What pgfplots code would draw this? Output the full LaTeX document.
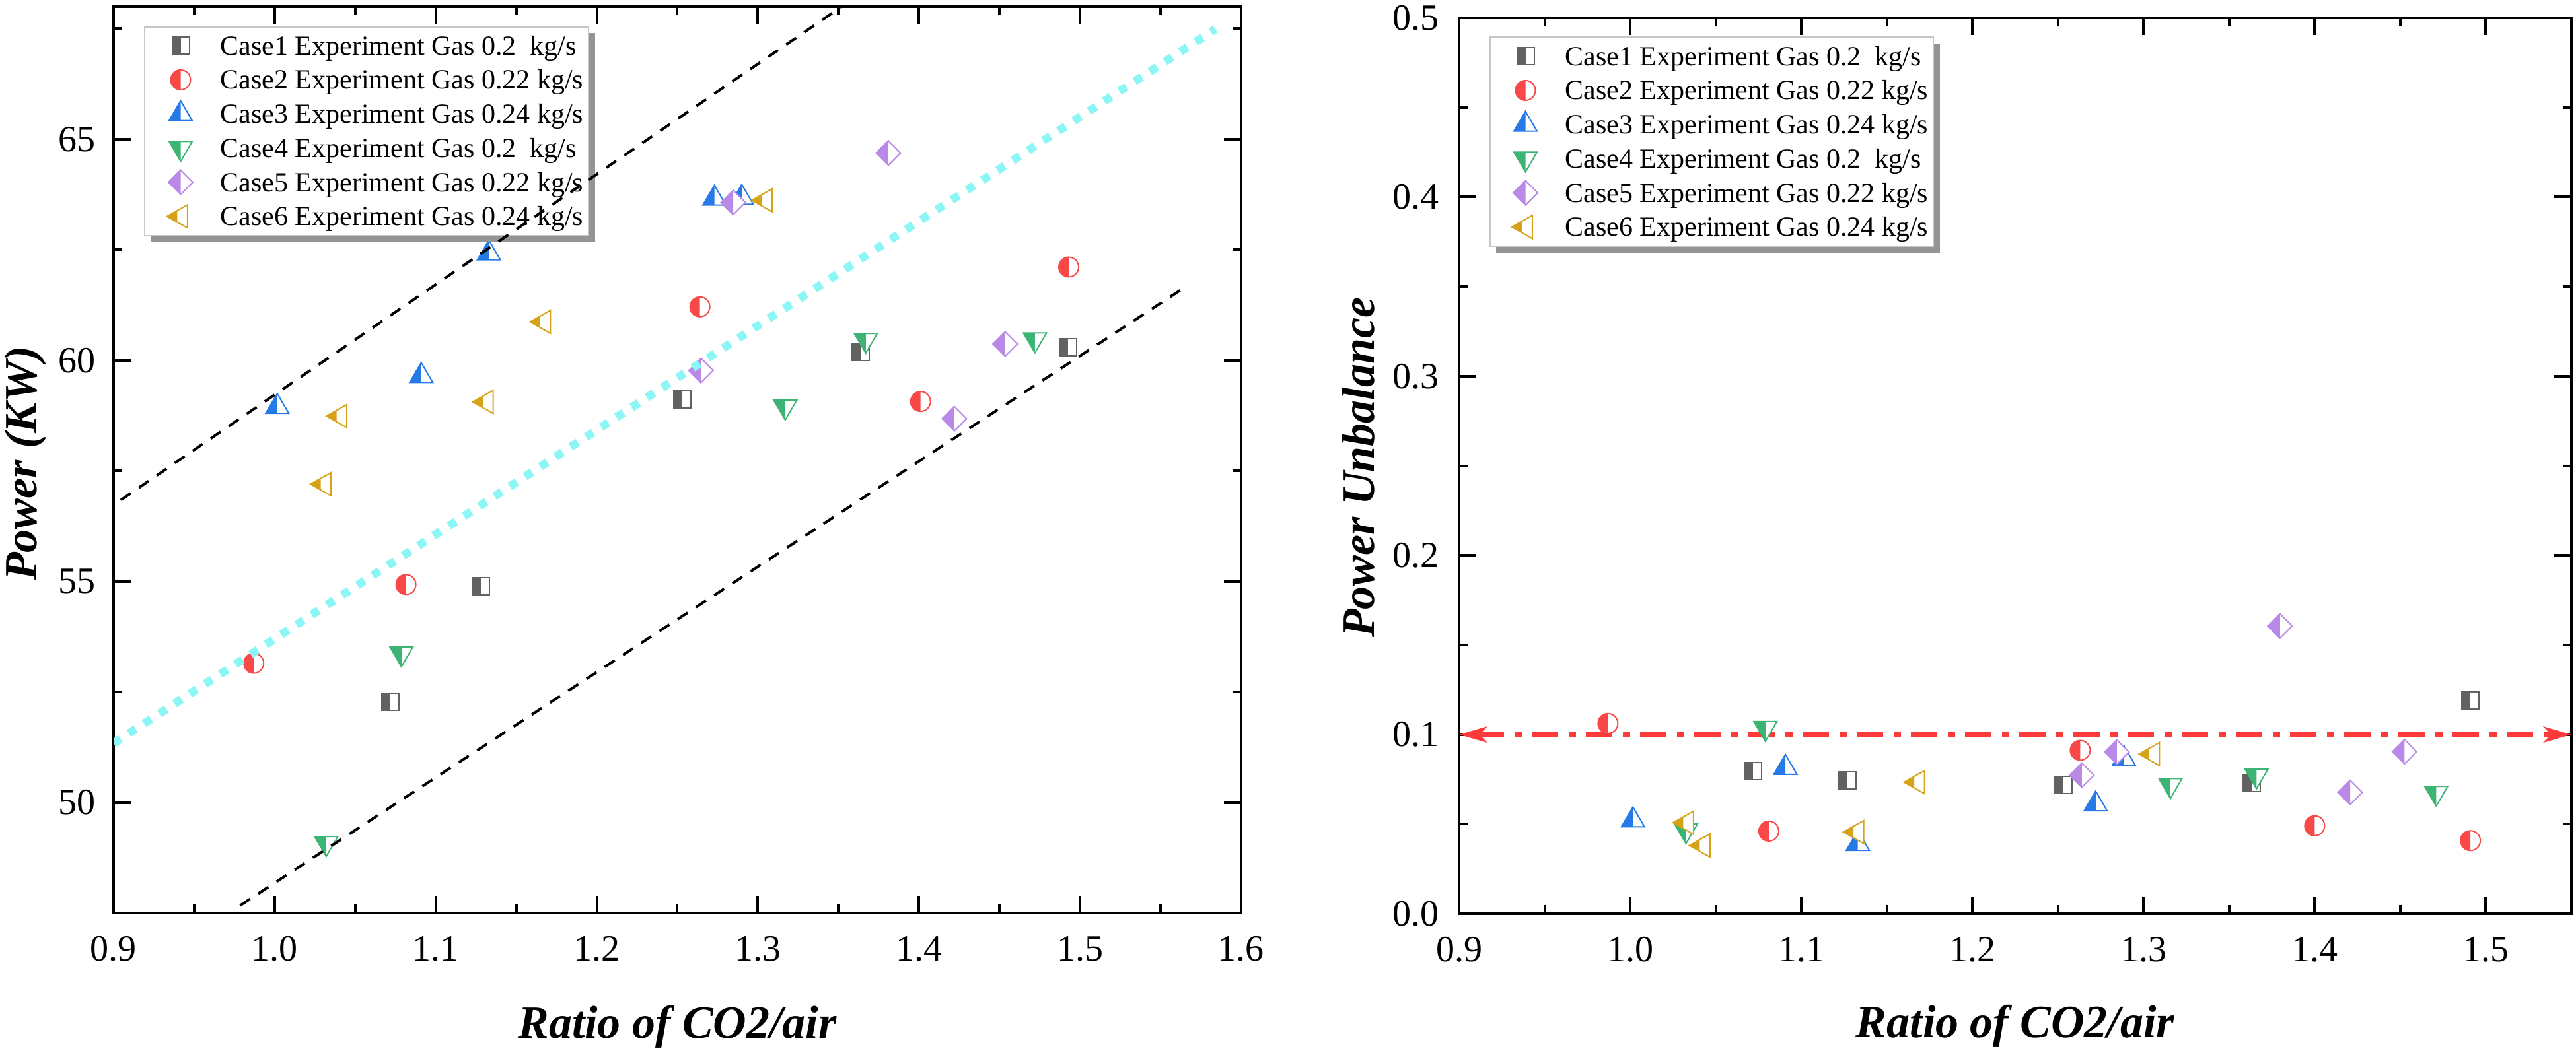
\documentclass[border=0pt]{standalone}
\usepackage{fontspec}
\setmainfont{Liberation Serif}
\usepackage{pgfplots}
\pgfplotsset{compat=1.18}
\usetikzlibrary{arrows.meta,shadows}

\definecolor{cgray}{RGB}{98,98,98}
\definecolor{cred}{RGB}{248,72,72}
\definecolor{cblue}{RGB}{38,122,232}
\definecolor{cgreen}{RGB}{60,180,115}
\definecolor{cpurple}{RGB}{186,136,230}
\definecolor{cgold}{RGB}{214,162,24}
\definecolor{ccyan}{RGB}{140,245,245}
\definecolor{cline}{RGB}{252,58,58}

\newcommand\halfmark[2]{%
  \begin{pgfscope}\pgfsetfillcolor{white}#1\pgfusepathqfill\end{pgfscope}%
  #2\pgfusepathqfill
  #1\pgfusepathqstroke}

\pgfdeclareplotmark{hsq}{\halfmark
  {\pgfpathrectangle{\pgfpoint{-2.6pt}{-2.6pt}}{\pgfpoint{5.2pt}{5.2pt}}}%
  {\pgfpathrectangle{\pgfpoint{-2.6pt}{-2.6pt}}{\pgfpoint{2.6pt}{5.2pt}}}}
\pgfdeclareplotmark{hci}{\halfmark
  {\pgfpathcircle{\pgfpointorigin}{3pt}}%
  {\pgfpathmoveto{\pgfpoint{0pt}{3pt}}\pgfpatharc{90}{270}{3pt}\pgfpathclose}}
\pgfdeclareplotmark{htu}{\halfmark
  {\pgfpathmoveto{\pgfpoint{0pt}{4pt}}\pgfpathlineto{\pgfpoint{-3.5pt}{-2pt}}\pgfpathlineto{\pgfpoint{3.5pt}{-2pt}}\pgfpathclose}%
  {\pgfpathmoveto{\pgfpoint{0pt}{4pt}}\pgfpathlineto{\pgfpoint{-3.5pt}{-2pt}}\pgfpathlineto{\pgfpoint{0pt}{-2pt}}\pgfpathclose}}
\pgfdeclareplotmark{htd}{\halfmark
  {\pgfpathmoveto{\pgfpoint{0pt}{-4pt}}\pgfpathlineto{\pgfpoint{-3.5pt}{2pt}}\pgfpathlineto{\pgfpoint{3.5pt}{2pt}}\pgfpathclose}%
  {\pgfpathmoveto{\pgfpoint{0pt}{-4pt}}\pgfpathlineto{\pgfpoint{-3.5pt}{2pt}}\pgfpathlineto{\pgfpoint{0pt}{2pt}}\pgfpathclose}}
\pgfdeclareplotmark{hdi}{\halfmark
  {\pgfpathmoveto{\pgfpoint{0pt}{3.7pt}}\pgfpathlineto{\pgfpoint{-3.7pt}{0pt}}\pgfpathlineto{\pgfpoint{0pt}{-3.7pt}}\pgfpathlineto{\pgfpoint{3.7pt}{0pt}}\pgfpathclose}%
  {\pgfpathmoveto{\pgfpoint{0pt}{3.7pt}}\pgfpathlineto{\pgfpoint{-3.7pt}{0pt}}\pgfpathlineto{\pgfpoint{0pt}{-3.7pt}}\pgfpathclose}}
\pgfdeclareplotmark{htl}{\halfmark
  {\pgfpathmoveto{\pgfpoint{-4.13pt}{0pt}}\pgfpathlineto{\pgfpoint{2.07pt}{3.5pt}}\pgfpathlineto{\pgfpoint{2.07pt}{-3.5pt}}\pgfpathclose}%
  {\pgfpathmoveto{\pgfpoint{-4.13pt}{0pt}}\pgfpathlineto{\pgfpoint{-1.03pt}{1.75pt}}\pgfpathlineto{\pgfpoint{-1.03pt}{-1.75pt}}\pgfpathclose}}

\pgfplotsset{
  mystyle/.style={
    scale only axis,
    anchor=south west,
    axis line style={line width=0.95pt},
    every tick/.append style={black, line width=0.8pt},
    major tick length=5.2pt, minor tick length=2.6pt,
    tick align=inside,
    tick label style={font=\fontsize{11.2}{13}\selectfont},
    /pgf/number format/assume math mode=true,
    xticklabel style={yshift=-3.6pt, /pgf/number format/fixed, /pgf/number format/fixed zerofill, /pgf/number format/precision=1},
    label style={font=\fontsize{14}{16}\selectfont\bfseries\itshape},
    xlabel={Ratio of CO2/air},
    legend cell align=left,
    legend style={
      draw=black!22, line width=0.5pt, fill=white,
      drop shadow={shadow xshift=2pt, shadow yshift=-2pt, fill=black!42, opacity=1},
      inner xsep=0.8pt, inner ysep=0.63pt,
      row sep=0pt, column sep=0pt,
      font=\fontsize{8.4}{10}\selectfont,
      nodes={inner xsep=0.8pt, inner ysep=0pt, text height=7.97pt, text depth=2.37pt},
      at={(rel axis cs:0,1)}, anchor=north west,
    },
    legend image code/.code={\path (-9.8pt,0pt) (11pt,0pt); \draw[##1] plot coordinates {(0pt,0pt)};},
  },
  mk/.style={only marks, color=#1, mark options={line width=0.4pt, solid}},
}

\begin{document}
\begin{tikzpicture}
\path[use as bounding box] (0,0) rectangle (780pt,319.4pt);

% ---------------- left panel ----------------
\begin{axis}[mystyle,
  at={(34.4pt,42.8pt)}, width=341.4pt, height=274.6pt,
  xmin=0.9, xmax=1.6, ymin=47.5, ymax=68,
  xtick={0.9,1,1.1,1.2,1.3,1.4,1.5,1.6},
  minor xtick={0.95,1.05,1.15,1.25,1.35,1.45,1.55},
  ytick={50,55,60,65},
  minor ytick={47.5,52.5,57.5,62.5,67.5},
  yticklabel style={xshift=-2pt},
  ylabel={Power (KW)},
  xlabel style={at={(axis description cs:0.5,-0.13765)}, anchor=base},
  ylabel style={at={(axis description cs:-0.06854,0.496)}, anchor=base},
  legend style={xshift=9.2pt, yshift=-5.8pt},
]
\addplot[mk=cgray, mark=hsq] coordinates {(1.072,52.28) (1.128,54.89) (1.253,59.11) (1.364,60.19) (1.4925,60.30)};
\addlegendentry{Case1 Experiment Gas 0.2\ \ kg/s}
\addplot[mk=cred, mark=hci] coordinates {(0.987,53.15) (1.0815,54.93) (1.264,61.21) (1.401,59.07) (1.493,62.11)};
\addlegendentry{Case2 Experiment Gas 0.22 kg/s}
\addplot[mk=cblue, mark=htu] coordinates {(1.0016,58.95) (1.091,59.65) (1.133,62.42) (1.273,63.66) (1.290,63.68)};
\addlegendentry{Case3 Experiment Gas 0.24 kg/s}
\addplot[mk=cgreen, mark=htd] coordinates {(1.032,49.08) (1.0787,53.37) (1.317,58.95) (1.367,60.46) (1.472,60.47)};
\addlegendentry{Case4 Experiment Gas 0.2\ \ kg/s}
\addplot[mk=cpurple, mark=hdi] coordinates {(1.2647,59.77) (1.2847,63.57) (1.381,64.69) (1.422,58.68) (1.4535,60.37)};
\addlegendentry{Case5 Experiment Gas 0.22 kg/s}
\addplot[mk=cgold, mark=htl] coordinates {(1.0307,57.20) (1.0406,58.74) (1.1314,59.06) (1.167,60.87) (1.3047,63.62)};
\addlegendentry{Case6 Experiment Gas 0.24 kg/s}
\end{axis}

% overlay with the guide lines (drawn above markers and legend)
\begin{axis}[scale only axis, anchor=south west, hide axis,
  at={(34.4pt,42.8pt)}, width=341.4pt, height=274.6pt,
  xmin=0.9, xmax=1.6, ymin=47.5, ymax=68]
\addplot[ccyan, line width=2.5pt, dash pattern=on 2.5pt off 3pt] coordinates {(0.9,51.34) (1.584,67.49)};
\addplot[black, line width=0.8pt, dash pattern=on 3.6pt off 3pt] coordinates {(0.9045,56.84) (1.352,68)};
\addplot[black, line width=0.8pt, dash pattern=on 3.6pt off 3pt] coordinates {(0.9785,47.67) (1.565,61.65)};
\end{axis}

% ---------------- right panel ----------------
\begin{axis}[mystyle,
  at={(441.8pt,42.6pt)}, width=336.8pt, height=271.4pt,
  xmin=0.9, xmax=1.55, ymin=0, ymax=0.5,
  xtick={0.9,1,1.1,1.2,1.3,1.4,1.5},
  minor xtick={0.95,1.05,1.15,1.25,1.35,1.45},
  ytick={0,0.1,0.2,0.3,0.4,0.5},
  minor ytick={0.05,0.15,0.25,0.35,0.45},
  yticklabel style={xshift=-2.6pt, /pgf/number format/fixed, /pgf/number format/fixed zerofill, /pgf/number format/precision=1},
  ylabel={Power Unbalance},
  xlabel style={at={(axis description cs:0.5,-0.1385)}, anchor=base},
  ylabel style={at={(axis description cs:-0.0766,0.498)}, anchor=base},
  legend style={xshift=9pt, yshift=-5.6pt},
]
\addplot[mk=cgray, mark=hsq] coordinates {(1.0719,0.0795) (1.1271,0.0745) (1.253,0.0717) (1.363,0.0731) (1.491,0.119)};
\addlegendentry{Case1 Experiment Gas 0.2\ \ kg/s}
\addplot[mk=cred, mark=hci] coordinates {(0.987,0.1062) (1.081,0.0461) (1.263,0.0912) (1.40,0.0491) (1.491,0.0408)};
\addlegendentry{Case2 Experiment Gas 0.22 kg/s}
\addplot[mk=cblue, mark=htu] coordinates {(1.0016,0.0522) (1.0907,0.0815) (1.133,0.039) (1.272,0.0611) (1.2885,0.0864)};
\addlegendentry{Case3 Experiment Gas 0.24 kg/s}
\addplot[mk=cgreen, mark=htd] coordinates {(1.0326,0.0465) (1.079,0.1036) (1.3157,0.0717) (1.366,0.0771) (1.471,0.0674)};
\addlegendentry{Case4 Experiment Gas 0.2\ \ kg/s}
\addplot[mk=cpurple, mark=hdi] coordinates {(1.2639,0.0773) (1.2844,0.0902) (1.3797,0.1606) (1.4207,0.0677) (1.4525,0.0904)};
\addlegendentry{Case5 Experiment Gas 0.22 kg/s}
\addplot[mk=cgold, mark=htl] coordinates {(1.033,0.0508) (1.0426,0.0381) (1.1325,0.0456) (1.168,0.0734) (1.3053,0.0891)};
\addlegendentry{Case6 Experiment Gas 0.24 kg/s}
\addplot[cline, line width=1.4pt, dash pattern=on 8pt off 3.2pt on 2.2pt off 3pt,
  arrows={Stealth[length=8.4pt,width=4.8pt,inset=2.2pt]-Stealth[length=8.4pt,width=4.8pt,inset=2.2pt]},
  forget plot] coordinates {(0.9,0.1) (1.55,0.1)};
\end{axis}
\end{tikzpicture}
\end{document}
